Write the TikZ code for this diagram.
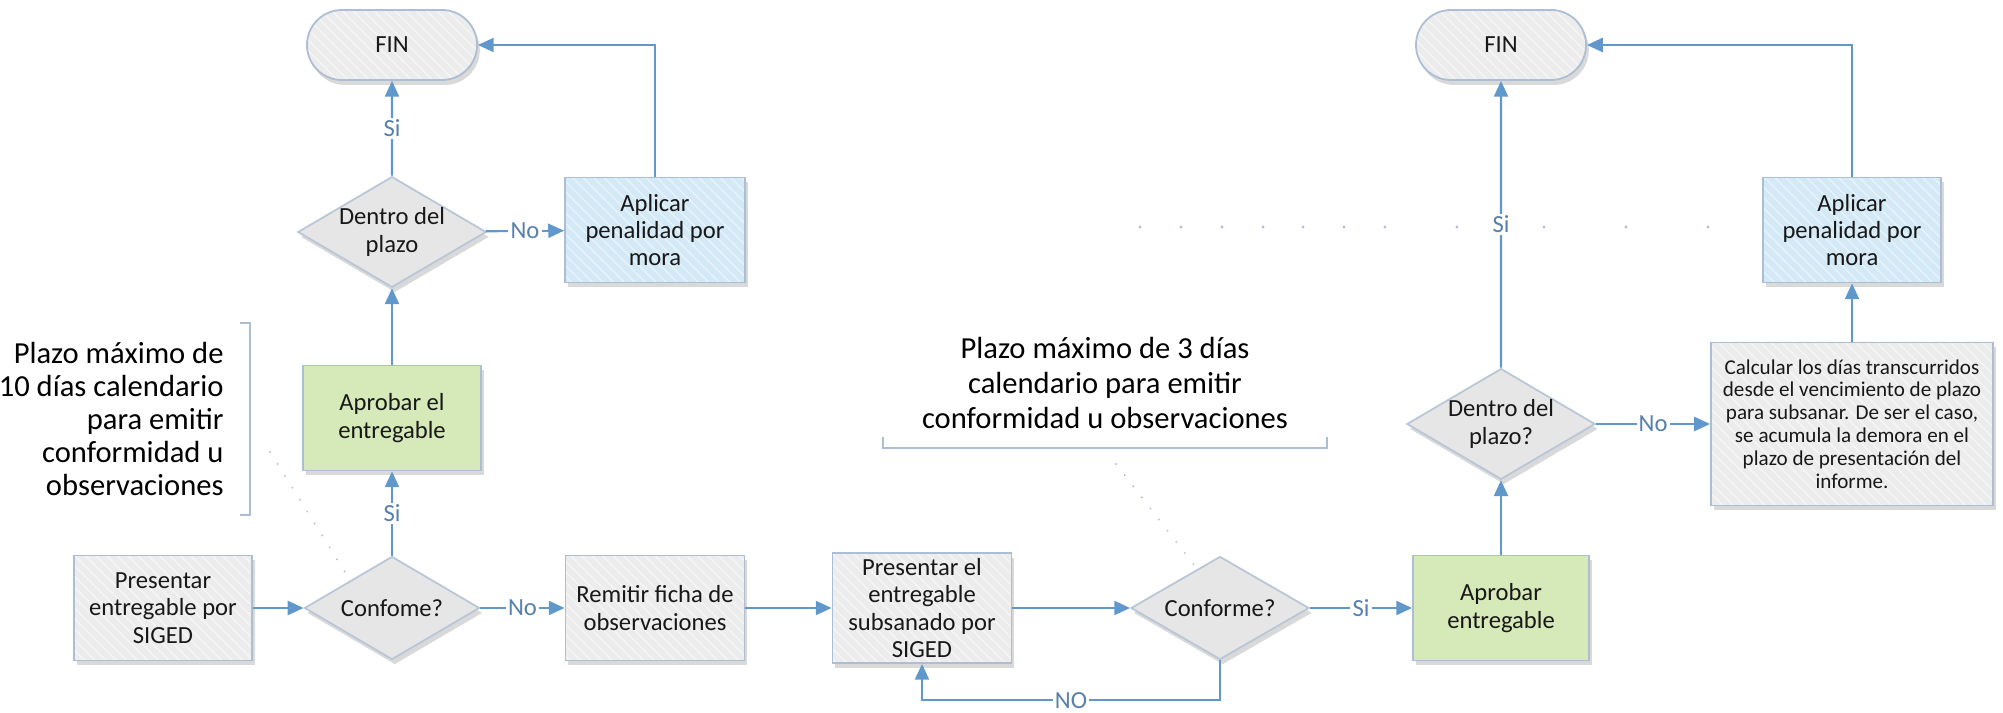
\documentclass[tikz,border=0pt]{standalone}
\usepackage{fontspec}
\setmainfont{Carlito}
\usepackage{tikz}
\usetikzlibrary{arrows.meta,shapes.geometric,shapes.misc,shadows,patterns,positioning}
\definecolor{flowc}{RGB}{96,152,204}
\definecolor{tagc}{RGB}{88,128,172}
\definecolor{edgec}{RGB}{172,190,212}
\definecolor{greyc}{RGB}{236,236,236}
\definecolor{diamc}{RGB}{230,230,230}
\definecolor{okc}{RGB}{214,233,184}
\definecolor{penc}{RGB}{212,233,246}
\definecolor{inkc}{RGB}{24,24,24}
\definecolor{guidec}{RGB}{176,192,210}

\begin{document}
\begin{tikzpicture}[x=0.01cm, y=-0.01cm, >={Triangle[length=4.5pt,width=4pt]},
  every node/.style={text=inkc, font=\fontsize{7}{7.8}\selectfont},
  base/.style={draw=edgec, line width=0.5pt, align=center, inner sep=1pt,
    drop shadow={shadow xshift=0.8pt, shadow yshift=-1.4pt, opacity=0.3}},
  hatch/.style={path picture={\fill[pattern=north west lines, pattern color=white!45!#1]
    (path picture bounding box.south west) rectangle (path picture bounding box.north east);}},
  plain/.style={base, rectangle, fill=greyc, minimum width=1.78cm, minimum height=1.05cm},
  proc/.style={plain, hatch=greyc},
  okbox/.style={plain, fill=okc},
  penbox/.style={plain, fill=penc, hatch=penc},
  term/.style={base, rounded rectangle, fill=greyc, minimum width=1.77cm, minimum height=0.7cm, hatch=greyc},
  decision/.style={base, diamond, fill=diamc, draw=edgec!80!diamc, shape aspect=1.7,
    inner sep=0pt, minimum width=1.75cm, minimum height=1.03cm},
  note/.style={font=\fontsize{8.7}{9.4}\selectfont, text=black},
  flow/.style={->, draw=flowc, line width=0.6pt},
  tag/.style={fill=white, inner sep=0.6pt, text=tagc},
  guide/.style={draw=guidec, line width=0.6pt, line cap=round, dash pattern=on 0pt off 4pt},
  brace/.style={draw=edgec, line width=0.7pt}]
\useasboundingbox (0,0) rectangle (2003,713);

% rama izquierda
\node[term] (fin1) at (392,45) {FIN};
\node[decision] (dentro1) at (392,232) {Dentro del\\plazo};
\node[penbox, minimum width=1.8cm] (pen1) at (655,230) {Aplicar\\penalidad por\\mora};
\node[okbox] (aprob1) at (392,418) {Aprobar el\\entregable};

% fila inferior
\node[proc] (pres) at (163,608) {Presentar\\entregable por\\SIGED};
\node[decision] (conf1) at (392,608) {Confome?};
\node[proc, minimum width=1.79cm] (remit) at (655,608) {Remitir ficha de\\observaciones};
\node[proc, minimum width=1.79cm, minimum height=1.1cm] (subs) at (922,608) {Presentar el\\entregable\\subsanado por\\SIGED};
\node[decision, minimum width=1.78cm] (conf2) at (1220,608) {Conforme?};
\node[okbox, minimum width=1.76cm] (aprob2) at (1501,608) {Aprobar\\entregable};

% rama derecha
\node[decision] (dentro2) at (1501,424) {Dentro del\\plazo?};
\node[term] (fin2) at (1501,45) {FIN};
\node[proc, minimum width=2.82cm, minimum height=1.63cm, font=\fontsize{6}{6.5}\selectfont] (calc) at (1852,424)
  {Calcular los días transcurridos\\desde el vencimiento de plazo\\para subsanar. De ser el caso,\\se acumula la demora en el\\plazo de presentación del\\informe.};
\node[penbox] (pen2) at (1852,230) {Aplicar\\penalidad por\\mora};

% notas
\node[note, align=right, anchor=east] (plazo10) at (236,419) {Plazo máximo de\\10 días calendario\\para emitir\\conformidad u\\observaciones};
\draw[brace] (240,323) -- (250,323) -- (250,515) -- (240,515);
\node[note, font=\fontsize{8.7}{10}\selectfont, align=center] (plazo3) at (1105,383) {Plazo máximo de 3 días\\calendario para emitir\\conformidad u observaciones};
\draw[brace] (883,437) -- (883,448) -- (1327,448) -- (1327,437);
\coordinate (g1a) at (270,452);
\coordinate (g1b) at (350,580);
\coordinate (g3a) at (1116,464);
\coordinate (g3b) at (1198,570);
\draw[guide] (g1a) -- (g1b);
\draw[guide] (g3a) -- (g3b);
\foreach \x in {1140,1181,1222,1263,1303,1344,1385,1457,1544,1626,1708}
  \fill[guidec] (\x,227) circle (0.45pt);

% conexiones
\draw[flow] (pres) -- (conf1);
\draw[flow] (conf1) -- node[tag] {No} (remit);
\draw[flow] (conf1) -- node[tag] {Si} (aprob1);
\draw[flow] (aprob1) -- (dentro1);
\draw[flow] (dentro1) -- node[tag] {Si} (fin1);
\draw[flow] (dentro1) -- node[tag] {No} (pen1);
\draw[flow] (pen1) |- (fin1);
\draw[flow] (remit) -- (subs);
\draw[flow] (subs) -- (conf2);
\draw[flow] (conf2.south) -- ++(0,40) -| node[tag, pos=0.25] {NO} (subs);
\draw[flow] (conf2) -- node[tag] {Si} (aprob2);
\draw[flow] (aprob2) -- (dentro2);
\draw[flow] (dentro2) -- node[tag] {Si} (fin2);
\draw[flow] (dentro2) -- node[tag] {No} (calc);
\draw[flow] (calc) -- (pen2);
\draw[flow] (pen2) |- (fin2);
\end{tikzpicture}
\end{document}
